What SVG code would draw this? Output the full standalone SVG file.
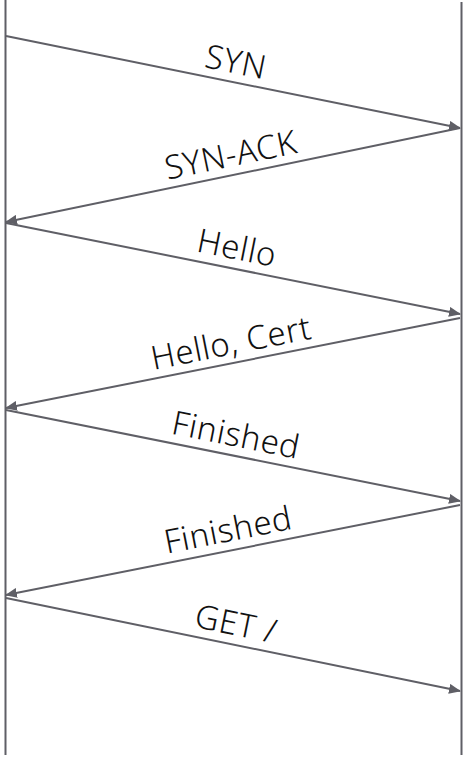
<svg xmlns="http://www.w3.org/2000/svg" width="463" height="757" viewBox="0 0 463 757">
<defs>
<marker id="ah" markerWidth="12" markerHeight="10" refX="11" refY="5" orient="auto" markerUnits="userSpaceOnUse">
<path d="M0,0 L12,5 L0,10 Z" fill="#5f5f66"/>
</marker>
<style>
.life{stroke:#5f5f66;stroke-width:2;fill:none}
.msg{stroke:#5f5f66;stroke-width:2;fill:none;marker-end:url(#ah)}
.lbl{font-family:"Noto Sans","Open Sans",sans-serif;font-size:33px;font-weight:300;fill:#111;text-anchor:middle;letter-spacing:0.6px}
</style>
</defs>
<g id="client"><line class="life" x1="5.5" y1="0" x2="5.5" y2="755"/></g>
<g id="server"><line class="life" x1="461.5" y1="2" x2="461.5" y2="755"/></g>
<g id="connectors">
<line class="msg" x1="6" y1="36" x2="460" y2="128"/>
<line class="msg" x1="460" y1="128" x2="6" y2="222"/>
<line class="msg" x1="6" y1="223" x2="460" y2="314"/>
<line class="msg" x1="460" y1="318" x2="6" y2="408"/>
<line class="msg" x1="6" y1="410" x2="460" y2="501"/>
<line class="msg" x1="460" y1="505" x2="6" y2="595"/>
<line class="msg" x1="6" y1="598" x2="460" y2="691"/>
</g>
<g id="labels">
<text class="lbl" transform="translate(232,82) rotate(11.46)" y="-9">SYN</text>
<text class="lbl" transform="translate(235,175) rotate(-11.7)" y="-9">SYN-ACK</text>
<text class="lbl" transform="translate(233,268) rotate(11.3)" y="-9">Hello</text>
<text class="lbl" transform="translate(235,363) rotate(-11.2)" y="-9">Hello, Cert</text>
<text class="lbl" transform="translate(232,455) rotate(11.3)" y="-9">Finished</text>
<text class="lbl" transform="translate(232,550) rotate(-11.2)" y="-9">Finished</text>
<text class="lbl" transform="translate(232,644) rotate(11.6)" y="-9">GET /</text>
</g>
</svg>
